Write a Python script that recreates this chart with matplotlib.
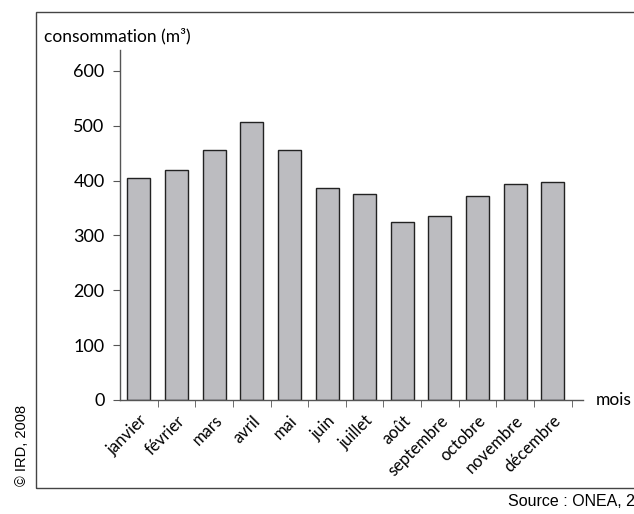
import matplotlib as mpl
mpl.use("Agg")
import matplotlib.pyplot as plt
from matplotlib.patches import Rectangle

mpl.rcParams["font.family"] = ["Lato", "DejaVu Sans"]

# data
months = ["janvier", "février", "mars", "avril", "mai", "juin", "juillet",
          "août", "septembre", "octobre", "novembre", "décembre"]
consumption = [405, 420, 456, 507, 456, 387, 376, 325, 335, 372, 394, 397]
y_ticks = [0, 100, 200, 300, 400, 500, 600]

W, H = 634, 514
fig = plt.figure(figsize=(W / 100, H / 100), dpi=100)

# frame around the figure (right side runs past the edge, as in the original)
fig.patches.append(Rectangle((36 / W, 1 - 488 / H), 1.0, (488 - 12) / H,
                             transform=fig.transFigure, fill=False,
                             edgecolor="#444444", lw=1.0))

ax = fig.add_axes([120 / W, 1 - 400 / H, (583 - 120) / W, (400 - 50) / H])
x = list(range(len(months)))
ax.bar(x, consumption, width=0.61, color="#bcbcc0", edgecolor="#222222", lw=1.0)

ax.set_xlim(-0.5, 11.8)
ax.set_ylim(0, 638)
for side in ["top", "right"]:
    ax.spines[side].set_visible(False)
for side in ["left", "bottom"]:
    ax.spines[side].set_color("#555555")
    ax.spines[side].set_linewidth(1.0)

ax.set_yticks(y_ticks)
ax.set_yticklabels([str(v) for v in y_ticks], fontsize=13)
ax.tick_params(axis="y", direction="out", length=5, color="#555555", pad=6)

ax.set_xticks(x)
ax.set_xticklabels(months, rotation=45, ha="right", rotation_mode="anchor",
                   fontsize=12)
ax.tick_params(axis="x", which="major", length=0, pad=9)
ax.set_xticks([i + 0.5 for i in x], minor=True)
ax.tick_params(axis="x", which="minor", direction="out", length=5, color="#555555")

fig.text(44 / W, 1 - 36 / H, "consommation (m³)", fontsize=12.5,
         va="center", ha="left")
fig.text(596 / W, 1 - 400 / H, "mois", fontsize=12.5, va="center", ha="left")
fig.text(22 / W, 1 - 445 / H, "© IRD, 2008", rotation=90, fontsize=10.5,
         va="center", ha="center", family=["Liberation Sans", "DejaVu Sans"])
fig.text(508 / W, 1 - 502 / H, "Source : ONEA, 2005", fontsize=11.5,
         va="center", ha="left",
         family=["Liberation Sans Narrow", "Liberation Sans", "DejaVu Sans"])

fig.savefig("out.png", dpi=100)
